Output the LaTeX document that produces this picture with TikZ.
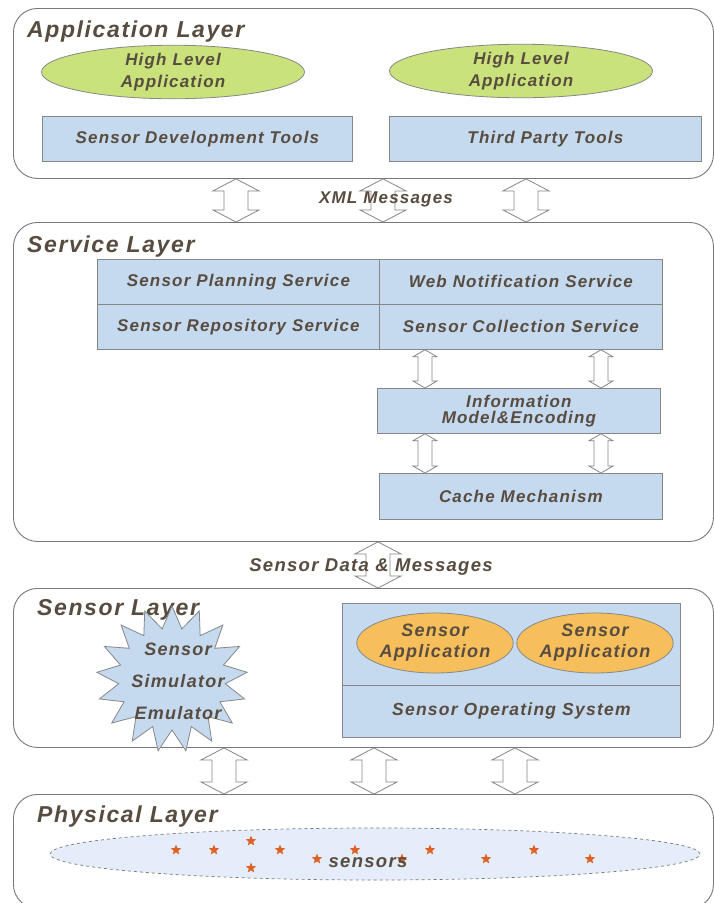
\documentclass[tikz,border=0pt]{standalone}
\usepackage{fontspec}
\setmainfont{Liberation Sans}
\newfontfamily\lblfont{Liberation Sans}[LetterSpace=7]
\usetikzlibrary{shapes.geometric,shapes.symbols,calc}

\definecolor{txt}{RGB}{88,76,64}
\definecolor{framegray}{RGB}{120,120,120}
\definecolor{boxline}{RGB}{135,135,135}
\definecolor{boxblue}{RGB}{198,218,239}
\definecolor{hlgreen}{RGB}{202,226,124}
\definecolor{saorange}{RGB}{247,191,92}
\definecolor{fieldblue}{RGB}{228,237,249}
\definecolor{starc}{RGB}{222,98,40}

% hollow double-headed block arrow between two points (top, bottom)
% #3 half shaft width, #4 half head width, #5 head length (pt)
\newcommand\dblarrow[5]{%
  \draw[blockarr] let \p1=#1, \p2=#2 in
    (\x1,\y1) -- (\x1+#4pt,\y1-#5pt) -- (\x1+#3pt,\y1-#5pt)
    -- (\x1+#3pt,\y2+#5pt) -- (\x1+#4pt,\y2+#5pt) -- (\x1,\y2)
    -- (\x1-#4pt,\y2+#5pt) -- (\x1-#3pt,\y2+#5pt)
    -- (\x1-#3pt,\y1-#5pt) -- (\x1-#4pt,\y1-#5pt) -- cycle;}

% label font at a given size and line distance
\newcommand\lbl[2]{\lblfont\bfseries\itshape\fontsize{#1}{#2}\selectfont}

\begin{document}
\begin{tikzpicture}[x=1pt,y=-1pt,
  layer/.style={draw=framegray, line width=0.9pt, rounded corners=24pt,
    fill=white, anchor=north west, inner sep=0pt},
  title/.style={anchor=base west, text=txt, inner sep=0pt, font=\lbl{23}{26}},
  box/.style={draw=boxline, fill=boxblue, line width=0.8pt,
    anchor=north west, inner sep=0pt, text=txt, align=center,
    font=\lbl{17}{16}},
  lbltext/.style={text=txt, inner sep=0pt, align=center, font=\lbl{17}{22}},
  hlapp/.style={ellipse, draw=boxline, fill=hlgreen, line width=0.8pt,
    minimum width=263pt, minimum height=52pt, inner sep=0pt, lbltext},
  sensapp/.style={ellipse, draw=boxline, fill=saorange, line width=0.8pt,
    minimum width=150pt, minimum height=60pt, inner sep=0pt, lbltext,
    font=\lbl{18}{21}},
  blockarr/.style={draw=boxline, fill=white, line width=0.8pt, line join=miter},
  sensorstar/.style={star, star points=5, star point ratio=2.3,
    fill=starc, minimum size=11pt, inner sep=0pt}]

\useasboundingbox (0,0) rectangle (714,903);
\clip (0,0) rectangle (714,903);
\fill[white] (0,0) rectangle (714,903);

% ---------------- layers ----------------
\node[layer, minimum width=700pt, minimum height=170pt] (app) at (13,8) {};
\node[layer, minimum width=700pt, minimum height=319pt] (svc) at (13,222) {};
\node[layer, minimum width=700pt, minimum height=159pt] (sen) at (13,588) {};
\node[layer, minimum width=700pt, minimum height=114pt] (phy) at (13,794) {};

% ---------------- application layer ----------------
\node[title] (appT) at (27,37) {Application Layer};
\node[hlapp] (hla1) at (173,72) {High Level\\Application};
\node[hlapp] (hla2) at (521,71) {High Level\\Application};
\node[box, minimum width=310pt, minimum height=45pt] (sdt) at (42,116)
  {Sensor Development Tools};
\node[box, minimum width=312pt, minimum height=45pt] (tpt) at (389,116)
  {Third Party Tools};

% ---------------- service layer ----------------
\node[title] (svcT) at (27,252) {Service Layer};
\node[box, minimum width=282pt, minimum height=45pt] (spl) at (97,259)
  {Sensor Planning Service};
\node[box, minimum width=283pt, minimum height=45pt] (wns) at (379,259)
  {Web Notification Service};
\node[box, minimum width=282pt, minimum height=45pt] (srs) at (97,304)
  {Sensor Repository Service};
\node[box, minimum width=283pt, minimum height=45pt] (scs) at (379,304)
  {Sensor Collection Service};
\node[box, minimum width=283pt, minimum height=45pt] (imc) at (377,388)
  {Information\\Model\&Encoding};
\node[box, minimum width=283pt, minimum height=46pt] (cache) at (379,473)
  {Cache Mechanism};

% ---------------- sensor layer ----------------
\node[title] (senT) at (37,615) {Sensor Layer};
\node[starburst, starburst points=17, starburst point height=22pt,
  random starburst=0, draw=boxline, fill=boxblue, line width=0.8pt,
  minimum width=151pt, minimum height=146pt, inner sep=0pt] (sim) at (172,679) {};
\node[lbltext, font=\lbl{18}{32}] (simT) at (178,681)
  {Sensor\\Simulator\\Emulator};
\node[box, minimum width=338pt, minimum height=82pt] (osTop) at (342,603) {};
\node[box, minimum width=338pt, minimum height=52pt, font=\lbl{17.5}{18}]
  (osys) at (342,685) {Sensor Operating System};
\node[sensapp] (sa1) at (435,643) {Sensor\\Application};
\node[sensapp] (sa2) at (595,643) {Sensor\\Application};

% ---------------- physical layer ----------------
\node[title] (phyT) at (37,822) {Physical Layer};
\node[ellipse, draw=framegray, dashed, fill=fieldblue, line width=0.7pt,
  minimum width=650pt, minimum height=52pt, inner sep=0pt] (field) at (375,854) {};
\foreach \n/\sx/\sy in {1/176/850, 2/214/850, 3/251/841, 4/280/850,
    5/317/859, 6/355/850, 7/251/868, 8/402/859, 9/430/850,
    10/486/859, 11/534/850, 12/590/859}
  \node[sensorstar] (s\n) at (\sx,\sy) {};
\node[lbltext, font=\lbl{18.5}{21}] (sensT) at (368,863) {sensors};

% ---------------- connectors ----------------
\coordinate (xa) at (236,0);
\coordinate (xb) at (383,0);
\coordinate (xc) at (526,0);
\coordinate (xd) at (378,0);
\coordinate (xe) at (224,0);
\coordinate (xf) at (374,0);
\coordinate (xg) at (515,0);
\coordinate (xh) at (425,0);
\coordinate (xi) at (601,0);

\dblarrow{(app.south -| xa)}{(svc.north -| xa)}{12}{23}{12}
\dblarrow{(app.south -| xb)}{(svc.north -| xb)}{12}{23}{12}
\dblarrow{(app.south -| xc)}{(svc.north -| xc)}{12}{23}{12}
\dblarrow{(svc.south -| xd)}{(sen.north -| xd)}{12}{23}{12}
\dblarrow{(sen.south -| xe)}{(phy.north -| xe)}{12}{23}{12}
\dblarrow{(sen.south -| xf)}{(phy.north -| xf)}{12}{23}{12}
\dblarrow{(sen.south -| xg)}{(phy.north -| xg)}{12}{23}{12}
\dblarrow{(scs.south -| xh)}{(imc.north -| xh)}{7}{12}{7}
\dblarrow{(scs.south -| xi)}{(imc.north -| xi)}{7}{12}{7}
\dblarrow{(imc.south -| xh)}{(cache.north -| xh)}{7}{12}{7}
\dblarrow{(imc.south -| xi)}{(cache.north -| xi)}{7}{12}{7}

% labels on the message flows
\node[lbltext] (xml) at (386,199) {XML Messages};
\node[lbltext, font=\lbl{18.5}{21}] (sdm) at (371,567) {Sensor Data \& Messages};

\end{tikzpicture}
\end{document}
